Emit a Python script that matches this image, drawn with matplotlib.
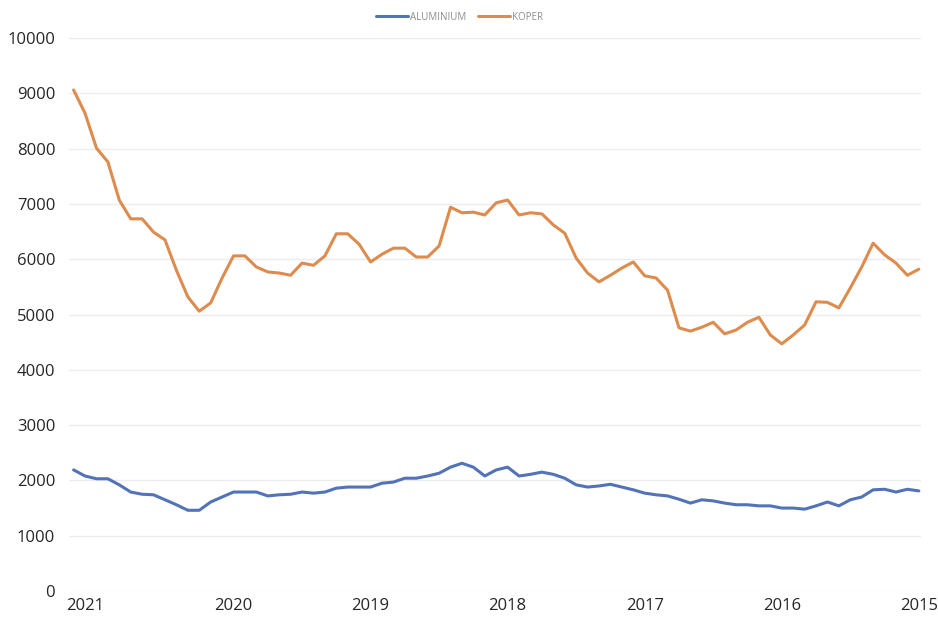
import matplotlib
matplotlib.use("Agg")
import matplotlib.pyplot as plt

# Monthly data, newest first (left) to oldest (right)
aluminium = [2190, 2080, 2030, 2030, 1920, 1790, 1750, 1740, 1650, 1560,
             1460, 1460, 1610, 1700, 1790, 1790, 1790, 1720, 1740, 1750,
             1790, 1770, 1790, 1860, 1880, 1880, 1880, 1950, 1970, 2040,
             2040, 2080, 2130, 2240, 2310, 2240, 2080, 2190, 2240, 2080,
             2110, 2150, 2110, 2040, 1920, 1880, 1900, 1930, 1880, 1830,
             1770, 1740, 1720, 1660, 1590, 1650, 1630, 1590, 1560, 1560,
             1540, 1540, 1500, 1500, 1480, 1540, 1610, 1540, 1650, 1700,
             1830, 1840, 1790, 1840, 1810]
koper = [9060, 8640, 8010, 7760, 7070, 6730, 6730, 6490, 6350, 5800,
         5320, 5060, 5210, 5660, 6060, 6060, 5860, 5770, 5750, 5710,
         5930, 5890, 6060, 6460, 6460, 6270, 5950, 6090, 6200, 6200,
         6040, 6040, 6240, 6940, 6840, 6850, 6800, 7020, 7070, 6800,
         6840, 6820, 6620, 6470, 6020, 5750, 5590, 5710, 5840, 5950,
         5700, 5660, 5440, 4760, 4700, 4770, 4860, 4650, 4720, 4860,
         4950, 4630, 4470, 4630, 4810, 5230, 5220, 5120, 5480, 5860,
         6290, 6080, 5930, 5710, 5820]
year_labels = ["2021", "2020", "2019", "2018", "2017", "2016", "2015"]
year_tick_idx = [1, 14, 26, 38, 50, 62, 74]
series_names = ["ALUMINIUM", "KOPER"]

plt.rcParams['font.family'] = ['Open Sans', 'DejaVu Sans']

fig = plt.figure(figsize=(9.38, 6.17), dpi=100)
ax = fig.add_axes([0.0736, 0.0421, 0.9084, 0.8963])

x = list(range(len(koper)))
ax.plot(x, aluminium, color='#5273B8', lw=2.2, label=series_names[0], solid_capstyle='round')
ax.plot(x, koper, color='#DE8B4E', lw=2.2, label=series_names[1], solid_capstyle='round')

ax.set_ylim(0, 10000)
ax.set_xlim(-0.4, 74.2)
ax.set_yticks(range(0, 10001, 1000))
ax.set_xticks(year_tick_idx)
ax.set_xticklabels(year_labels)
ax.grid(axis='y', color='#ececec', lw=1)
ax.set_axisbelow(True)
for s in ax.spines.values():
    s.set_visible(False)
ax.tick_params(axis='both', length=0, labelsize=12, labelcolor='#262626')
ax.tick_params(axis='y', pad=10)
ax.tick_params(axis='x', pad=5)

fig.legend(loc='upper center', bbox_to_anchor=(0.49, 0.995), ncol=2,
           frameon=False, fontsize=7, labelcolor='#8c8c8c',
           handlelength=3.3, handletextpad=0.2, columnspacing=1.2)

fig.savefig('out.png', dpi=100, facecolor='white')
